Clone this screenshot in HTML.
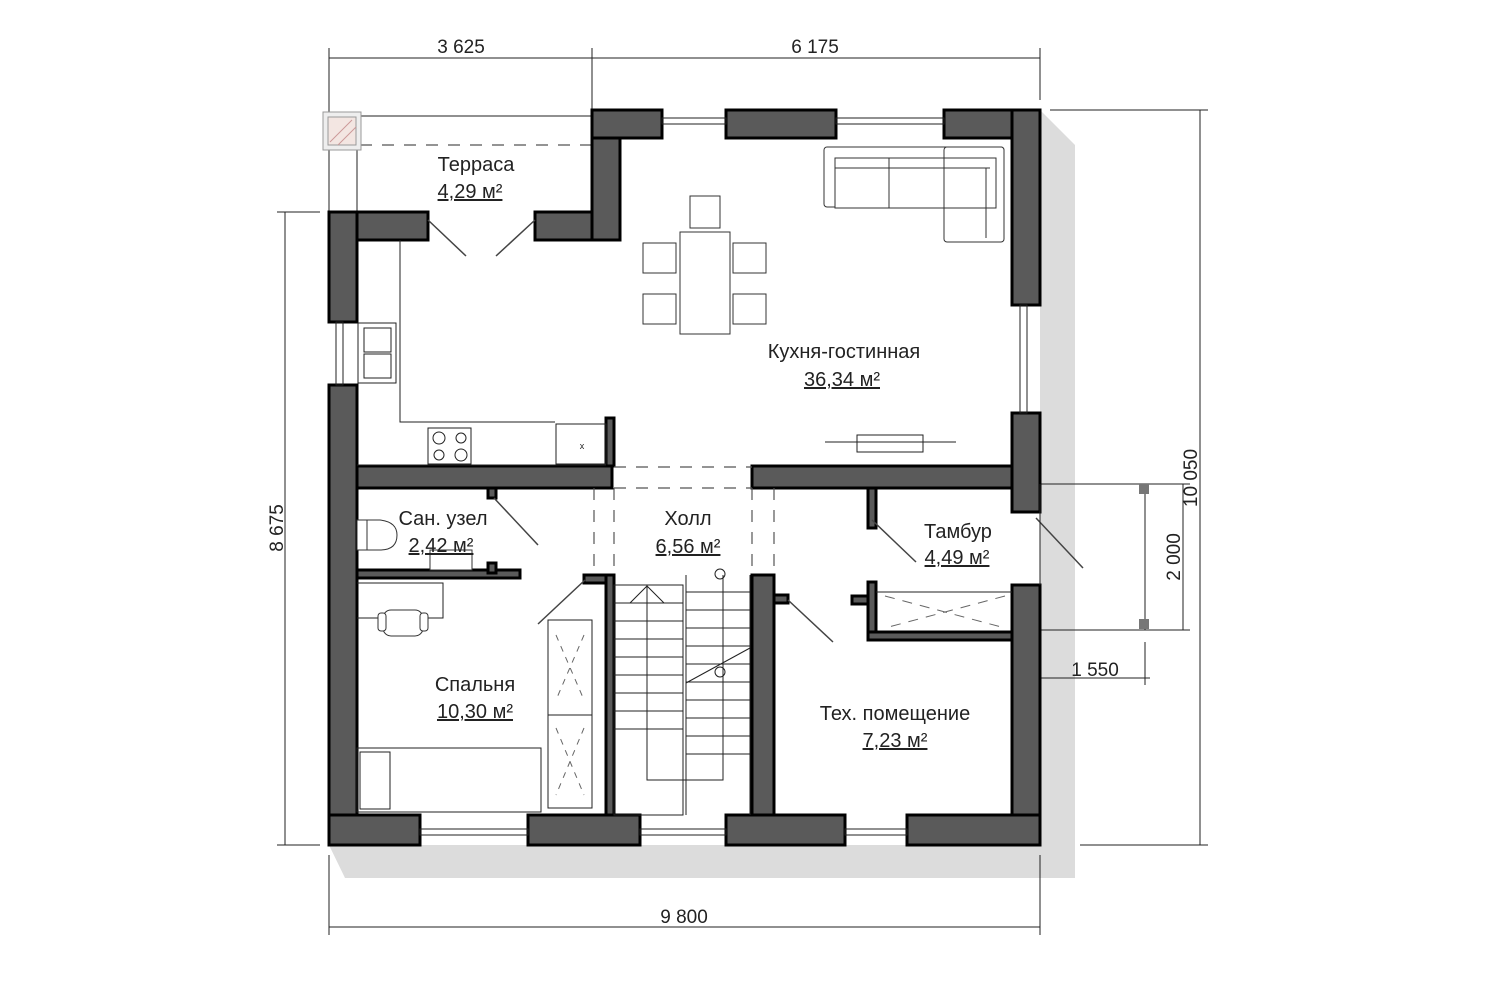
<!DOCTYPE html>
<html><head><meta charset="utf-8"><style>
html,body{margin:0;padding:0;background:#fff;}
svg{display:block;}
text{font-family:"Liberation Sans",sans-serif;fill:#222;}
.w{fill:#5a5a5a;stroke:#000;stroke-width:3;}
.l{stroke:#222;stroke-width:1;fill:none;}
.f{stroke:#333;stroke-width:1;fill:#fff;}
.d{stroke:#555;stroke-width:1.2;fill:none;stroke-dasharray:12 10;}
.lab{font-size:20px;text-anchor:middle;}
.dim{font-size:19px;text-anchor:middle;}
</style></head><body>
<svg width="1506" height="1001" viewBox="0 0 1506 1001" xmlns="http://www.w3.org/2000/svg">
<polygon points="1040,110 1075,145 1075,878 345,878 329,845 1040,845" fill="#dcdcdc"/>
<rect x="329" y="212" width="711" height="633" fill="#fff"/>
<rect x="592" y="110" width="448" height="110" fill="#fff"/>

<g class="l" stroke="#333">
<line x1="329" y1="58" x2="1040" y2="58"/>
<line x1="329" y1="48" x2="329" y2="212"/><line x1="592" y1="48" x2="592" y2="110"/><line x1="1040" y1="48" x2="1040" y2="100"/>
<line x1="329" y1="927" x2="1040" y2="927"/>
<line x1="329" y1="855" x2="329" y2="935"/><line x1="1040" y1="855" x2="1040" y2="935"/>
<line x1="285" y1="212" x2="285" y2="845"/>
<line x1="277" y1="212" x2="320" y2="212"/><line x1="277" y1="845" x2="320" y2="845"/>
<line x1="1200" y1="110" x2="1200" y2="845"/>
<line x1="1050" y1="110" x2="1208" y2="110"/><line x1="1080" y1="845" x2="1208" y2="845"/>
<line x1="1183" y1="484" x2="1183" y2="630"/>
<line x1="1040" y1="484" x2="1190" y2="484"/><line x1="1040" y1="630" x2="1190" y2="630"/>
<line x1="1040" y1="678" x2="1150" y2="678"/><line x1="1145" y1="642" x2="1145" y2="685"/>
<line x1="1145" y1="484" x2="1145" y2="630"/>
</g>
<text class="dim" x="461" y="53">3 625</text>
<text class="dim" x="815" y="53">6 175</text>
<text class="dim" x="684" y="923">9 800</text>
<text class="dim" x="1095" y="676">1 550</text>
<text class="dim" transform="translate(283,528) rotate(-90)">8 675</text>
<text class="dim" transform="translate(1197,478) rotate(-90)">10 050</text>
<text class="dim" transform="translate(1180,557) rotate(-90)">2 000</text>
<rect x="1139" y="484" width="10" height="10" fill="#777"/>
<rect x="1139" y="619" width="10" height="10" fill="#777"/>

<line class="l" x1="360" y1="116" x2="592" y2="116"/>
<line class="d" x1="360" y1="145" x2="592" y2="145"/>
<line class="l" x1="357" y1="150" x2="357" y2="212"/>
<rect x="323" y="112" width="38" height="38" fill="#eee" stroke="#999"/>
<rect x="328" y="117" width="28" height="28" fill="#f3e6e2" stroke="#999"/>
<line x1="330" y1="142" x2="352" y2="120" stroke="#c99" /><line x1="338" y1="145" x2="356" y2="127" stroke="#c99"/>

<g class="w">
<rect x="329" y="212" width="99" height="28"/>
<rect x="329" y="212" width="28" height="110"/>
<rect x="329" y="385" width="28" height="460"/>
<rect x="535" y="212" width="85" height="28"/>
<rect x="592" y="110" width="28" height="130"/>
<rect x="592" y="110" width="70" height="28"/>
<rect x="726" y="110" width="110" height="28"/>
<rect x="944" y="110" width="96" height="28"/>
<rect x="1012" y="110" width="28" height="195"/>
<rect x="1012" y="413" width="28" height="99"/>
<rect x="1012" y="585" width="28" height="260"/>
<rect x="329" y="815" width="91" height="30"/>
<rect x="528" y="815" width="112" height="30"/>
<rect x="726" y="815" width="119" height="30"/>
<rect x="907" y="815" width="133" height="30"/>
<rect x="357" y="466" width="255" height="22"/>
<rect x="752" y="466" width="260" height="22"/>
<rect x="606" y="418" width="8" height="48"/>
<rect x="357" y="570" width="163" height="8"/>
<rect x="488" y="488" width="8" height="10"/>
<rect x="488" y="563" width="8" height="10"/>
<rect x="584" y="575" width="30" height="8"/>
<rect x="606" y="575" width="8" height="240"/>
<rect x="752" y="575" width="22" height="240"/>
<rect x="774" y="595" width="14" height="8"/>
<rect x="868" y="488" width="8" height="40"/>
<rect x="868" y="582" width="8" height="58"/>
<rect x="852" y="596" width="16" height="8"/>
<rect x="868" y="632" width="144" height="8"/>
</g>
<g class="l" stroke="#444">
<rect x="662" y="118" width="64" height="6"/>
<rect x="836" y="118" width="108" height="6"/>
<rect x="1020" y="305" width="7" height="108"/>
<rect x="336" y="322" width="7" height="63"/>
<rect x="420" y="829" width="108" height="6"/>
<rect x="640" y="829" width="86" height="6"/>
<rect x="845" y="829" width="62" height="6"/>
</g>
<g stroke="#444" stroke-width="1.5">
<line x1="428" y1="220" x2="466" y2="256"/><line x1="535" y1="220" x2="496" y2="256"/>
<line x1="494" y1="498" x2="538" y2="545"/>
<line x1="585" y1="580" x2="538" y2="624"/>
<line x1="788" y1="600" x2="833" y2="642"/>
<line x1="872" y1="520" x2="916" y2="562"/>
<line x1="1036" y1="518" x2="1083" y2="568"/>
</g>
<line class="l" x1="1040" y1="484" x2="1040" y2="585" stroke="#aaa"/>

<g class="l">
<polyline points="400,240 400,422 555,422"/>
<line x1="357" y1="465" x2="606" y2="465"/>
<rect x="556" y="424" width="50" height="40"/>
<rect x="428" y="428" width="43" height="36"/>
<circle cx="439" cy="438" r="6"/><circle cx="461" cy="438" r="5"/><circle cx="439" cy="455" r="5"/><circle cx="461" cy="455" r="6"/>
<rect x="358" y="323" width="38" height="60"/>
<rect x="364" y="328" width="27" height="24"/><rect x="364" y="354" width="27" height="24"/>
</g>
<text x="582" y="449" font-size="9" fill="#999" text-anchor="middle">x</text>

<g class="f">
<rect x="690" y="196" width="30" height="32"/>
<rect x="643" y="243" width="33" height="30"/>
<rect x="643" y="294" width="33" height="30"/>
<rect x="733" y="243" width="33" height="30"/>
<rect x="733" y="294" width="33" height="30"/>
<rect x="680" y="232" width="50" height="102"/>
</g>
<g class="f">
<rect x="824" y="147" width="180" height="60" rx="3"/>
<rect x="944" y="147" width="60" height="95" rx="3"/>
<rect x="835" y="158" width="161" height="50"/>
<line x1="889" y1="158" x2="889" y2="208"/>
<line x1="944" y1="158" x2="944" y2="208"/>
<line x1="835" y1="168" x2="990" y2="168"/>
<line x1="986" y1="168" x2="986" y2="238"/>
</g>
<g class="l"><rect x="857" y="435" width="66" height="17"/><line x1="825" y1="442" x2="956" y2="442"/></g>

<g class="d">
<line x1="614" y1="467" x2="752" y2="467"/>
<line x1="614" y1="488" x2="752" y2="488"/>
<line x1="594" y1="488" x2="594" y2="575"/><line x1="614" y1="488" x2="614" y2="575"/>
<line x1="752" y1="488" x2="752" y2="575"/><line x1="774" y1="488" x2="774" y2="575"/>
</g>

<g class="f">
<rect x="357" y="520" width="10" height="30"/>
<path d="M367,520 L380,520 Q397,522 397,535 Q397,550 380,550 L367,550 Z"/>
<rect x="430" y="550" width="42" height="20"/>
</g>
<g class="l">
<polyline points="357,583 443,583 443,618 357,618"/>
<rect x="357" y="748" width="184" height="64"/>
<rect x="360" y="752" width="30" height="57"/>
<rect x="548" y="620" width="44" height="188"/>
<line x1="548" y1="715" x2="592" y2="715"/>
</g>
<g class="f"><rect x="383" y="610" width="40" height="26" rx="8"/><rect x="378" y="613" width="8" height="18" rx="3"/><rect x="420" y="613" width="8" height="18" rx="3"/></g>
<g stroke="#666" stroke-dasharray="6 6"><line x1="556" y1="635" x2="584" y2="700"/><line x1="584" y1="635" x2="556" y2="700"/><line x1="556" y1="728" x2="584" y2="795"/><line x1="584" y1="728" x2="556" y2="795"/></g>

<g class="l">
<rect x="614" y="585" width="69" height="230" fill="none"/>
<polyline points="647,585 647,780 723,780 723,575"/>
<line x1="686" y1="575" x2="686" y2="815"/>
<line x1="750" y1="575" x2="750" y2="815"/>
<line x1="614" y1="603" x2="683" y2="603"/><line x1="614" y1="621" x2="683" y2="621"/><line x1="614" y1="639" x2="683" y2="639"/><line x1="614" y1="657" x2="683" y2="657"/><line x1="614" y1="675" x2="683" y2="675"/><line x1="614" y1="693" x2="683" y2="693"/><line x1="614" y1="711" x2="683" y2="711"/><line x1="614" y1="729" x2="683" y2="729"/>
<line x1="686" y1="592" x2="750" y2="592"/><line x1="686" y1="610" x2="750" y2="610"/><line x1="686" y1="628" x2="750" y2="628"/><line x1="686" y1="646" x2="750" y2="646"/><line x1="686" y1="664" x2="750" y2="664"/><line x1="686" y1="682" x2="750" y2="682"/><line x1="686" y1="700" x2="750" y2="700"/><line x1="686" y1="718" x2="750" y2="718"/><line x1="686" y1="736" x2="750" y2="736"/><line x1="686" y1="754" x2="750" y2="754"/>
<polyline points="630,603 647,586 664,603"/>
<line x1="686" y1="683" x2="750" y2="648"/>
<circle cx="720" cy="574" r="5"/><circle cx="720" cy="672" r="5"/>
</g>

<line class="l" x1="876" y1="592" x2="1012" y2="592"/>
<g stroke="#666" stroke-dasharray="10 8"><line x1="885" y1="596" x2="1005" y2="628"/><line x1="1005" y1="596" x2="885" y2="628"/></g>

<text class="lab" x="476" y="171">Терраса</text>
<text class="lab" x="470" y="198" text-decoration="underline">4,29 м²</text>
<text class="lab" x="844" y="358">Кухня-гостинная</text>
<text class="lab" x="842" y="386" text-decoration="underline">36,34 м²</text>
<text class="lab" x="443" y="525">Сан. узел</text>
<text class="lab" x="441" y="552" text-decoration="underline">2,42 м²</text>
<text class="lab" x="688" y="525">Холл</text>
<text class="lab" x="688" y="553" text-decoration="underline">6,56 м²</text>
<text class="lab" x="958" y="538">Тамбур</text>
<text class="lab" x="957" y="564" text-decoration="underline">4,49 м²</text>
<text class="lab" x="475" y="691">Спальня</text>
<text class="lab" x="475" y="718" text-decoration="underline">10,30 м²</text>
<text class="lab" x="895" y="720">Тех. помещение</text>
<text class="lab" x="895" y="747" text-decoration="underline">7,23 м²</text>
</svg>
</body></html>
